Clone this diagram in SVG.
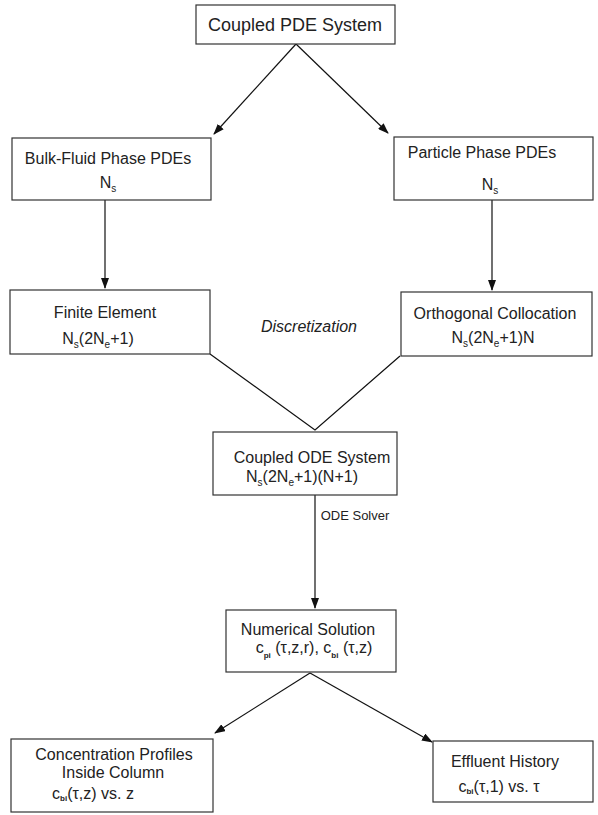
<svg xmlns="http://www.w3.org/2000/svg" width="598" height="815" viewBox="0 0 598 815">
<style>
.box{fill:#fff;stroke:#333;stroke-width:1.2}
.t{font-family:"Liberation Sans",Arial,sans-serif;font-size:16px;fill:#222;text-anchor:middle}
.big{font-size:18px}
.sub{font-size:10px}
.subb{font-size:8px;font-weight:bold}
.it{font-style:italic}
.ln{fill:none;stroke:#111;stroke-width:1.2}
</style>
<defs>
<marker id="ah" markerWidth="11" markerHeight="8" refX="10" refY="4" orient="auto" markerUnits="userSpaceOnUse">
<path d="M0,0 L11,4 L0,8 z" fill="#111"/>
</marker>
</defs>
<rect width="598" height="815" fill="#fff"/>
<g id="connectors">
<path class="ln" d="M296,44 L214,134" marker-end="url(#ah)"/>
<path class="ln" d="M296,44 L388,133" marker-end="url(#ah)"/>
<path class="ln" d="M105,200 L105,288" marker-end="url(#ah)"/>
<path class="ln" d="M492,200 L492,290" marker-end="url(#ah)"/>
<path class="ln" d="M210,354 L315,430 L400,356"/>
<path class="ln" d="M315,495 L315,608" marker-end="url(#ah)"/>
<path class="ln" d="M310,673 L215,733" marker-end="url(#ah)"/>
<path class="ln" d="M310,673 L432,742" marker-end="url(#ah)"/>
<text class="t it" x="309" y="332">Discretization</text>
<text class="t" x="355" y="520" style="font-size:13px">ODE Solver</text>
</g>
<g id="coupled-pde">
<rect class="box" x="196" y="5" width="199" height="39"/>
<text class="t big" x="295" y="31">Coupled PDE System</text>
</g>
<g id="bulk-fluid">
<rect class="box" x="12" y="138" width="199" height="62"/>
<text class="t" x="108" y="164">Bulk-Fluid Phase PDEs</text>
<text class="t" x="108" y="188">N<tspan class="sub" dy="4">s</tspan></text>
</g>
<g id="particle">
<rect class="box" x="394" y="137" width="199" height="63"/>
<text class="t" x="482" y="158">Particle Phase PDEs</text>
<text class="t" x="490" y="190">N<tspan class="sub" dy="4">s</tspan></text>
</g>
<g id="finite-element">
<rect class="box" x="10" y="290" width="200" height="64"/>
<text class="t" x="105" y="318">Finite Element</text>
<text class="t" x="98" y="344">N<tspan class="sub" dy="4">s</tspan><tspan dy="-4">(2N</tspan><tspan class="sub" dy="4">e</tspan><tspan dy="-4">+1)</tspan></text>
</g>
<g id="orthogonal">
<rect class="box" x="401" y="292" width="191" height="64"/>
<text class="t" x="495" y="319">Orthogonal Collocation</text>
<text class="t" x="493" y="343">N<tspan class="sub" dy="4">s</tspan><tspan dy="-4">(2N</tspan><tspan class="sub" dy="4">e</tspan><tspan dy="-4">+1)N</tspan></text>
</g>
<g id="coupled-ode">
<rect class="box" x="213" y="432" width="184" height="63"/>
<text class="t" x="312" y="463">Coupled ODE System</text>
<text class="t" x="302" y="482">N<tspan class="sub" dy="4">s</tspan><tspan dy="-4">(2N</tspan><tspan class="sub" dy="4">e</tspan><tspan dy="-4">+1)(N+1)</tspan></text>
</g>
<g id="numerical">
<rect class="box" x="226" y="610" width="170" height="62"/>
<text class="t" x="308" y="635">Numerical Solution</text>
<text class="t" x="314" y="653">c<tspan class="subb" dy="5">pi</tspan><tspan dy="-5"> (τ,z,r), c</tspan><tspan class="subb" dy="5">bi</tspan><tspan dy="-5"> (τ,z)</tspan></text>
</g>
<g id="concentration">
<rect class="box" x="11" y="739" width="202" height="73"/>
<text class="t" x="114" y="760">Concentration Profiles</text>
<text class="t" x="113" y="778">Inside Column</text>
<text class="t" x="93" y="799">c<tspan class="subb" dy="2">bi</tspan><tspan dy="-2">(τ,z) vs. z</tspan></text>
</g>
<g id="effluent">
<rect class="box" x="433" y="741" width="160" height="61"/>
<text class="t" x="505" y="767">Effluent History</text>
<text class="t" x="499" y="792">c<tspan class="subb" dy="2">bi</tspan><tspan dy="-2">(τ,1) vs. τ</tspan></text>
</g>
</svg>
